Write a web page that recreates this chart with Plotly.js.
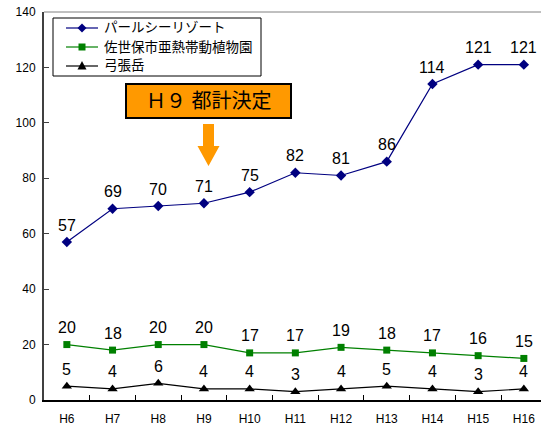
<!DOCTYPE html>
<html>
<head>
<meta charset="utf-8">
<script src="https://cdn.plot.ly/plotly-3.0.1.min.js"></script>
<style>
  html, body { margin: 0; padding: 0; background: #fff; }
  #chart { width: 541px; height: 427px; }
</style>
</head>
<body>
<div id="chart"></div>
<script>
// Years (Heisei era) on the category axis
const years = ['H6', 'H7', 'H8', 'H9', 'H10', 'H11', 'H12', 'H13', 'H14', 'H15', 'H16'];

// Visitor counts per facility
const pearlSea   = [57, 69, 70, 71, 75, 82, 81, 86, 114, 121, 121];
const botanical  = [20, 18, 20, 20, 17, 17, 19, 18, 17, 16, 15];
const yumihari   = [5, 4, 6, 4, 4, 3, 4, 5, 4, 3, 4];

const seriesNames = ['パールシーリゾート', '佐世保市亜熱帯動植物園', '弓張岳'];
const seriesColors = ['#000080', '#008000', '#000000'];
const noteText = 'Ｈ９ 都計決定';

// Plot area in pixels, used to place the key, note box and arrow
const W = 541, H = 427;
const M = { l: 44, r: 0, t: 12, b: 27 };
const PW = W - M.l - M.r, PH = H - M.t - M.b;
const px = x => (x - M.l) / PW;
const py = y => (H - M.b - y) / PH;
const pathOf = pts => 'M' + pts.map(p => px(p[0]).toFixed(5) + ',' + py(p[1]).toFixed(5)).join(' L') + ' Z';

const FONT = '"Liberation Sans", Arial, sans-serif';
const JFONT = '"Liberation Sans", "Noto Sans CJK JP", sans-serif';

function series(name, values, color, symbol, size) {
  return {
    type: 'scatter', mode: 'lines+markers', name: name,
    x: years, y: values,
    line: { color: color, width: 1.2 },
    marker: { color: color, symbol: symbol, size: size },
    hoverinfo: 'skip'
  };
}

const traces = [
  series(seriesNames[0], pearlSea, seriesColors[0], 'diamond', 8),
  series(seriesNames[1], botanical, seriesColors[1], 'square', 7),
  series(seriesNames[2], yumihari, seriesColors[2], 'triangle-up', 9)
];

// Value labels above each point
const annotations = [];
[pearlSea, botanical, yumihari].forEach(vals => {
  vals.forEach((v, i) => {
    annotations.push({
      xref: 'x', yref: 'y', x: years[i], y: v,
      text: String(v), showarrow: false,
      yanchor: 'middle', yshift: 17,
      font: { family: FONT, size: 16, color: '#000' }
    });
  });
});

// Note label inside the orange box
annotations.push({
  xref: 'paper', yref: 'paper',
  x: px(208.5), y: py(101.5),
  xanchor: 'center', yanchor: 'middle',
  text: noteText, showarrow: false,
  font: { family: JFONT, size: 20, color: '#000' }
});

const shapes = [
  // top border of the plot area
  { type: 'line', xref: 'paper', yref: 'paper', x0: 0, x1: 1, y0: 1, y1: 1,
    line: { color: '#808080', width: 1 } },
  // note box
  { type: 'rect', xref: 'paper', yref: 'paper',
    x0: px(126), x1: px(291), y0: py(118), y1: py(84),
    fillcolor: '#FF9900', line: { color: '#000', width: 2 } },
  // downward arrow under the note box
  { type: 'path', xref: 'paper', yref: 'paper',
    path: pathOf([[203, 124], [214, 124], [214, 146], [219.5, 146],
                  [208.5, 166], [197.5, 146], [203, 146]]),
    fillcolor: '#FF9900', line: { width: 0 } },
  // key box
  { type: 'rect', xref: 'paper', yref: 'paper',
    x0: px(53), x1: px(261), y0: py(76), y1: py(18),
    fillcolor: '#fff', line: { color: '#000', width: 1 } }
];

// Key rows: line sample, symbol, name
const keyRows = [28, 47, 66];
const keyX0 = 66, keyX1 = 98, keyMid = 82;
keyRows.forEach((ry, k) => {
  const c = seriesColors[k];
  shapes.push({ type: 'line', xref: 'paper', yref: 'paper',
    x0: px(keyX0), x1: px(keyX1), y0: py(ry), y1: py(ry),
    line: { color: c, width: 1.2 } });
  let sym;
  if (k === 0) {
    sym = pathOf([[keyMid, ry - 4.5], [keyMid + 4.5, ry], [keyMid, ry + 4.5], [keyMid - 4.5, ry]]);
  } else if (k === 1) {
    sym = pathOf([[keyMid - 3.5, ry - 3.5], [keyMid + 3.5, ry - 3.5], [keyMid + 3.5, ry + 3.5], [keyMid - 3.5, ry + 3.5]]);
  } else {
    sym = pathOf([[keyMid, ry - 5], [keyMid + 4.5, ry + 3.5], [keyMid - 4.5, ry + 3.5]]);
  }
  shapes.push({ type: 'path', xref: 'paper', yref: 'paper', path: sym,
    fillcolor: c, line: { width: 0 } });
  annotations.push({
    xref: 'paper', yref: 'paper', x: px(102), y: py(ry),
    xanchor: 'left', yanchor: 'middle',
    text: seriesNames[k], showarrow: false,
    font: { family: JFONT, size: 13.5, color: '#000' }
  });
});

const layout = {
  width: W, height: H,
  margin: M,
  paper_bgcolor: '#fff', plot_bgcolor: '#fff',
  showlegend: false,
  xaxis: {
    type: 'category',
    range: [-0.5, -0.5 + PW / 45.7],
    tickson: 'boundaries',
    ticks: 'inside', ticklen: 5, tickcolor: '#000', tickwidth: 1,
    showline: true, linecolor: '#000', linewidth: 2,
    showgrid: false, zeroline: false,
    tickfont: { family: FONT, size: 12, color: '#000' },
    ticklabelstandoff: 7,
    fixedrange: true
  },
  yaxis: {
    range: [0, 140], dtick: 20, tick0: 0,
    ticks: 'inside', ticklen: 5, tickcolor: '#404040', tickwidth: 1,
    showline: true, linecolor: '#404040', linewidth: 2,
    showgrid: false, zeroline: false,
    tickfont: { family: FONT, size: 12, color: '#000' },
    ticklabelstandoff: 4,
    fixedrange: true
  },
  annotations: annotations,
  shapes: shapes
};

Plotly.newPlot('chart', traces, layout, { staticPlot: true, displayModeBar: false });
</script>
</body>
</html>
